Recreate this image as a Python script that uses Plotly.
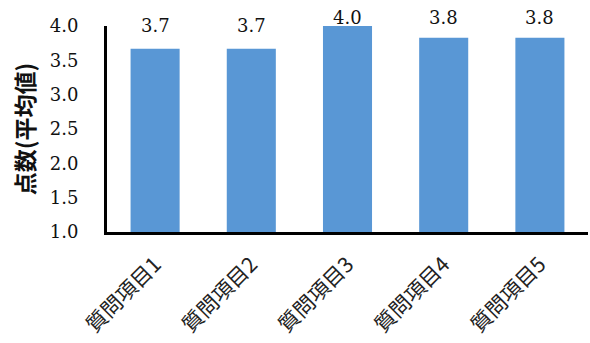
import plotly.graph_objects as go

categories = ["質問項目1", "質問項目2", "質問項目3", "質問項目4", "質問項目5"]
values = [3.67, 3.67, 4.0, 3.83, 3.83]
value_labels = ["3.7", "3.7", "4.0", "3.8", "3.8"]
y_tick_vals = [1.0, 1.5, 2.0, 2.5, 3.0, 3.5, 4.0]
y_tick_text = ["1.0", "1.5", "2.0", "2.5", "3.0", "3.5", "4.0"]

Y_MIN, Y_MAX = 1.0, 4.0
M_T, M_B = 26, 111
H = 343
px_per_unit = (H - M_T - M_B) / (Y_MAX - Y_MIN)

SERIF = "'DejaVu Serif', 'Liberation Serif', serif"

fig = go.Figure()
fig.add_trace(go.Bar(
    x=categories,
    y=values,
    marker=dict(color="#5997d5", line=dict(width=0)),
    showlegend=False,
))

# data labels above bars (clamped near the top like Excel)
for c, v, t in zip(categories, values, value_labels):
    target = min(v + 0.34, 4.13)
    fig.add_annotation(
        x=c, y=v, yshift=(target - v) * px_per_unit, text=t, showarrow=False,
        yanchor="middle", xanchor="center",
        font=dict(family=SERIF, size=18, color="#111111"),
    )

fig.update_layout(
    width=590, height=H,
    margin=dict(l=107, r=2, t=M_T, b=M_B),
    paper_bgcolor="white", plot_bgcolor="white",
    bargap=0.49,
    xaxis=dict(
        showline=True, linecolor="black", linewidth=3,
        ticks="", tickangle=-45,
        ticklabelstandoff=9,
        tickfont=dict(family="Noto Sans CJK JP", size=21, color="#222222"),
        showgrid=False,
    ),
    yaxis=dict(
        range=[Y_MIN, Y_MAX],
        tickvals=y_tick_vals, ticktext=y_tick_text,
        showline=True, linecolor="black", linewidth=3,
        ticks="", showgrid=False, zeroline=False,
        ticklabelstandoff=22,
        tickfont=dict(family=SERIF, size=18, color="#111111"),
        title=dict(text="<b>点数(平均値)</b>",
                   font=dict(family="Noto Sans CJK JP", size=23, color="#111111"),
                   standoff=9),
    ),
)

fig.write_html("out.html")
